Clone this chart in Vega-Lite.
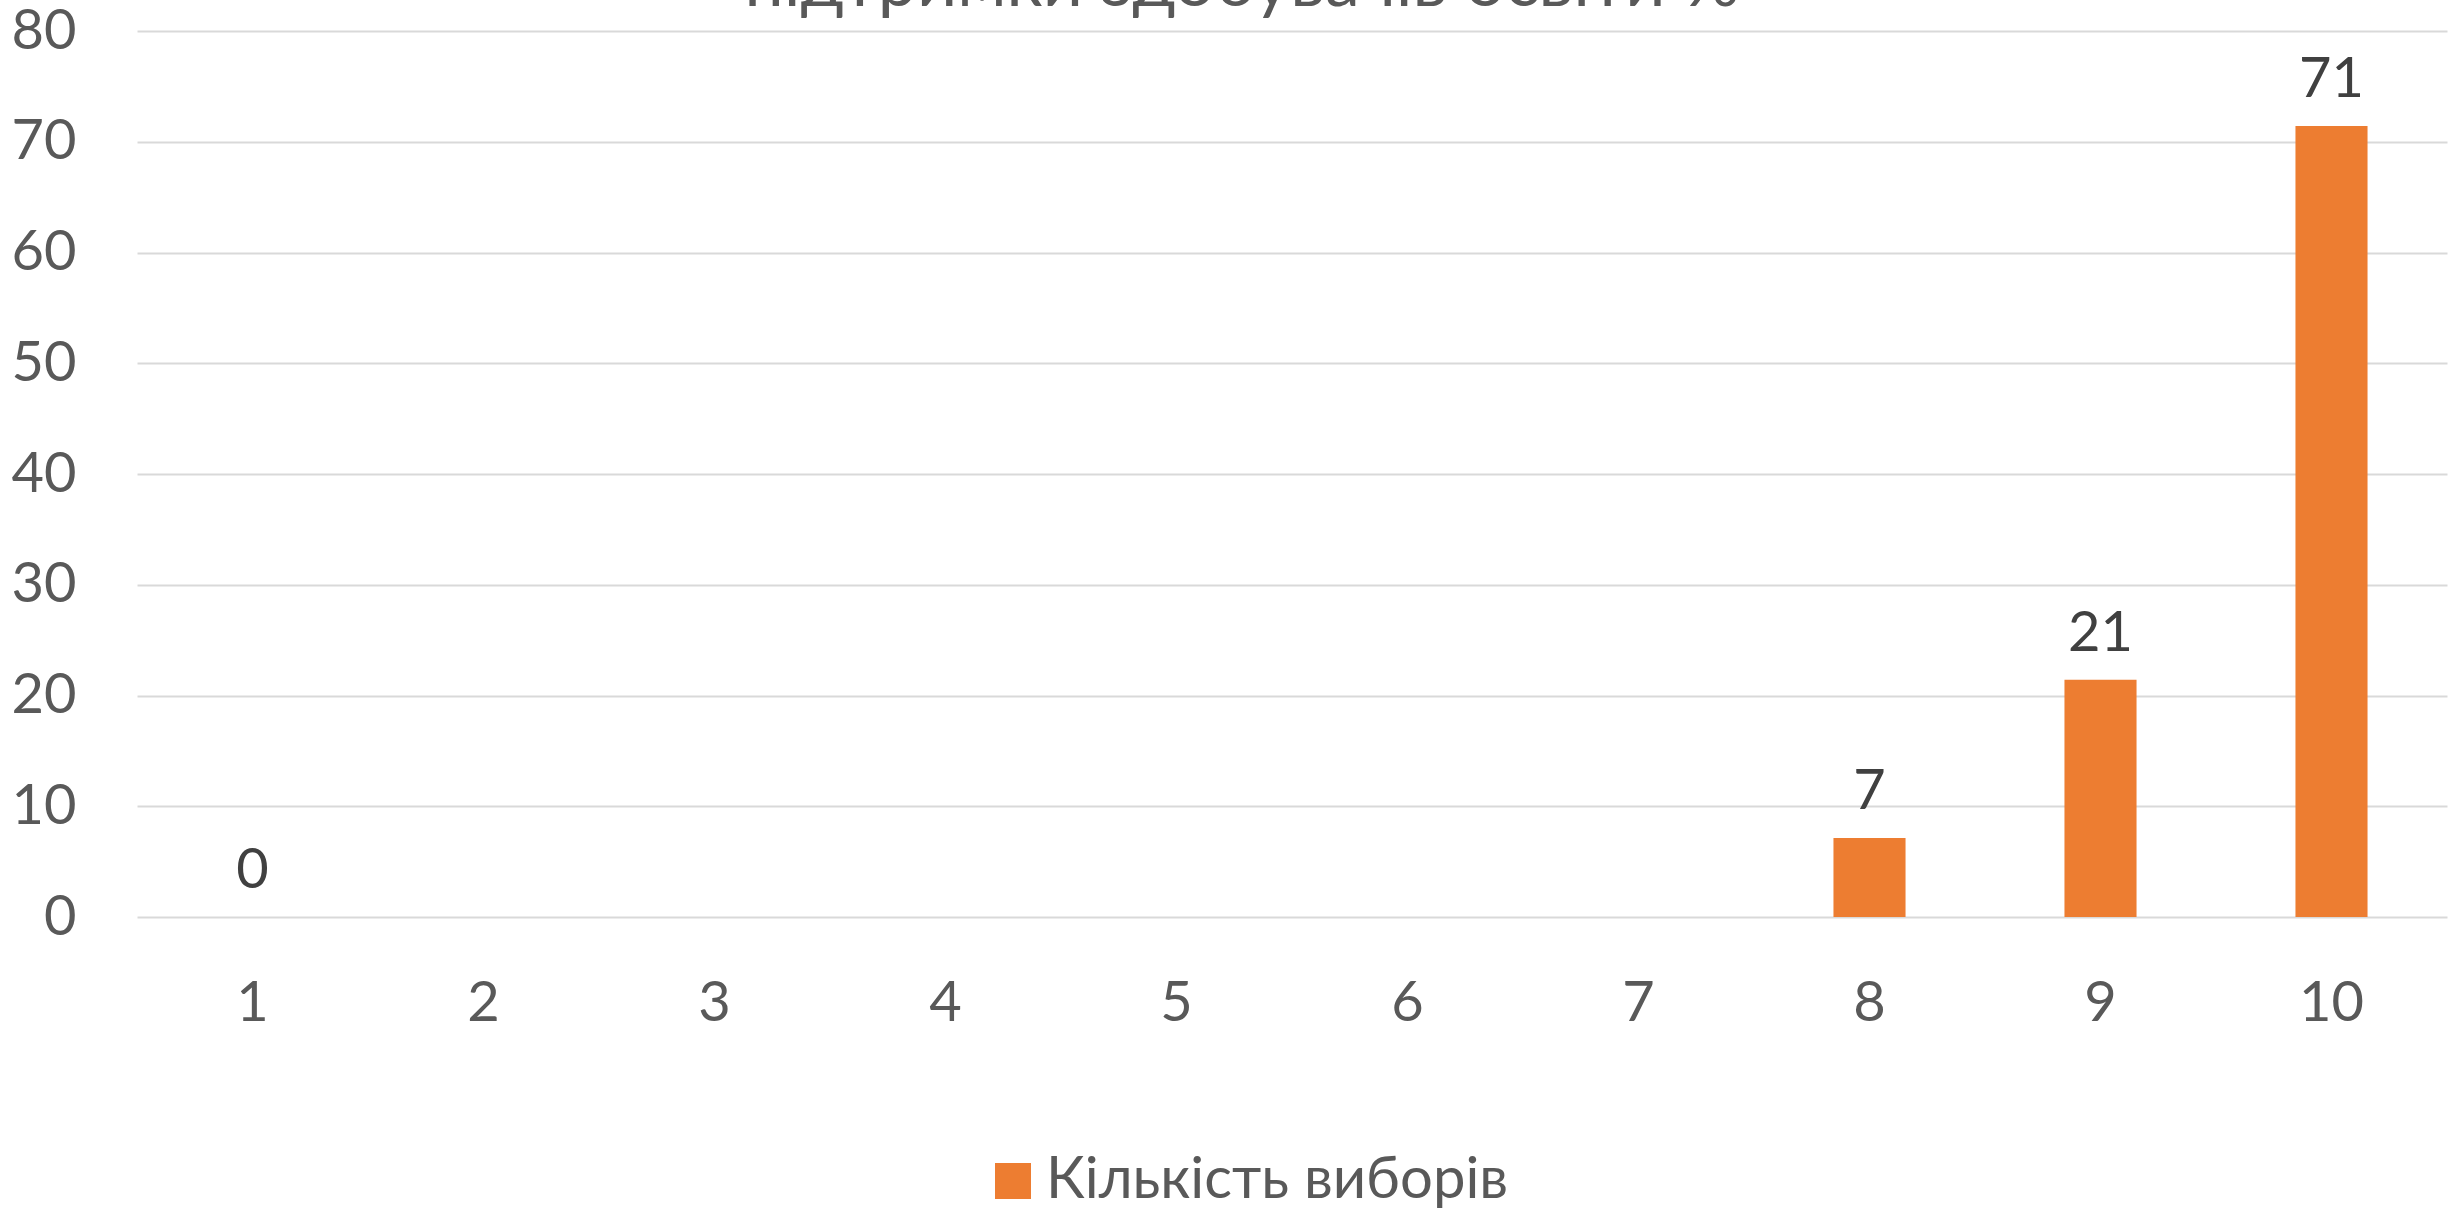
{
  "$schema": "https://vega.github.io/schema/vega-lite/v6.json",
  "width": 2310,
  "height": 886,
  "autosize": {"type": "none"},
  "padding": {"left": 137, "top": 31, "right": 16, "bottom": 294},
  "background": "white",
  "title": {
    "text": "підтримки здобувачів освіти %",
    "anchor": "middle",
    "frame": "group",
    "fontSize": 70,
    "font": "Lato",
    "fontWeight": "normal",
    "color": "#595959",
    "baseline": "alphabetic",
    "offset": -10,
    "dy": 63,
    "dx": -50
  },
  "data": {
    "values": [
      {"score": "1", "percent": 0, "series": "Кількість виборів"},
      {"score": "8", "percent": 7.14, "series": "Кількість виборів"},
      {"score": "9", "percent": 21.43, "series": "Кількість виборів"},
      {"score": "10", "percent": 71.43, "series": "Кількість виборів"}
    ]
  },
  "encoding": {
    "x": {
      "field": "score",
      "type": "ordinal",
      "sort": null,
      "scale": {"domain": ["1", "2", "3", "4", "5", "6", "7", "8", "9", "10"], "paddingInner": 0.688, "paddingOuter": 0.344},
      "axis": {
        "title": null,
        "labelAngle": 0,
        "domain": false,
        "ticks": false,
        "grid": false,
        "labelFont": "Lato",
        "labelFontSize": 56,
        "labelColor": "#595959",
        "labelBaseline": "alphabetic",
        "labelPadding": 103
      }
    },
    "y": {
      "field": "percent",
      "type": "quantitative",
      "scale": {"domain": [0, 80], "nice": false},
      "axis": {
        "title": null,
        "values": [0, 10, 20, 30, 40, 50, 60, 70, 80],
        "domain": false,
        "ticks": false,
        "grid": true,
        "gridColor": "#d9d9d9",
        "gridWidth": 2,
        "labelFont": "Lato",
        "labelFontSize": 56,
        "labelColor": "#595959",
        "labelPadding": 61
      }
    }
  },
  "layer": [
    {
      "mark": {"type": "bar"},
      "encoding": {
        "color": {
          "field": "series",
          "type": "nominal",
          "scale": {"range": ["#ED7D31"]},
          "legend": {
            "title": null,
            "orient": "none",
            "legendX": 847,
            "legendY": 1121,
            "direction": "horizontal",
            "symbolType": "square",
            "symbolSize": 1296,
            "symbolStrokeWidth": 0,
            "labelFont": "Lato",
            "labelFontSize": 58,
            "labelColor": "#595959",
            "labelOffset": 4,
            "labelLimit": 0,
            "padding": 0
          }
        }
      }
    },
    {
      "mark": {"type": "text", "baseline": "alphabetic", "dy": -29, "fontSize": 56, "font": "Lato", "color": "#404040"},
      "encoding": {
        "text": {"field": "percent", "type": "quantitative", "format": ".0f"}
      }
    }
  ],
  "config": {"view": {"stroke": null}}
}
